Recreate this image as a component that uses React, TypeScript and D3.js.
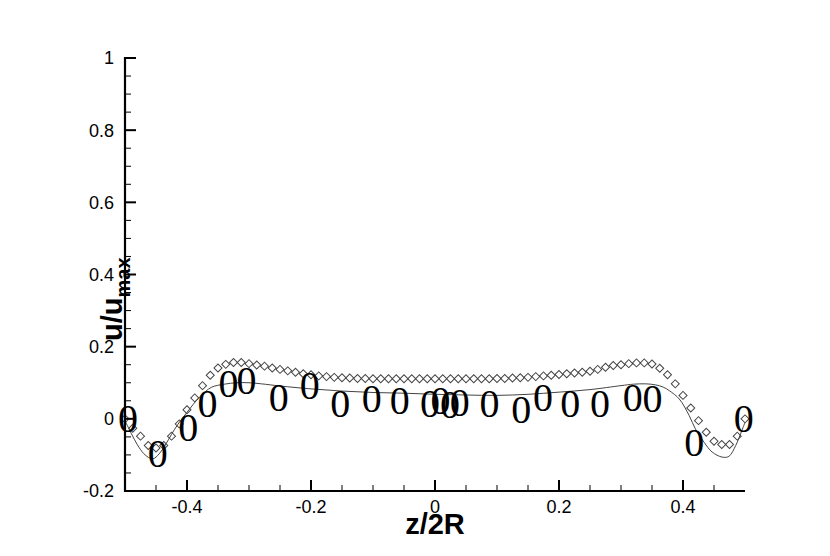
import React from "react";
import * as d3 from "d3";

// Diamond series (z/2R, u/umax)
const diamondZ = [
  -0.5, -0.4875, -0.475, -0.4625, -0.45, -0.4375, -0.425, -0.4125, -0.4, -0.3875,
  -0.375, -0.3625, -0.35, -0.3375, -0.325, -0.3125, -0.3, -0.2875, -0.275, -0.2625,
  -0.25, -0.2375, -0.225, -0.2125, -0.2, -0.1875, -0.175, -0.1625, -0.15, -0.1375,
  -0.125, -0.1125, -0.1, -0.0875, -0.075, -0.0625, -0.05, -0.0375, -0.025, -0.0125,
  0, 0.0125, 0.025, 0.0375, 0.05, 0.0625, 0.075, 0.0875, 0.1, 0.1125,
  0.125, 0.1375, 0.15, 0.1625, 0.175, 0.1875, 0.2, 0.2125, 0.225, 0.2375,
  0.25, 0.2625, 0.275, 0.2875, 0.3, 0.3125, 0.325, 0.3375, 0.35, 0.3625,
  0.375, 0.3875, 0.4, 0.4125, 0.425, 0.4375, 0.45, 0.4625, 0.475, 0.4875, 0.5,
];
const diamondU = [
  0.0, -0.026, -0.048, -0.074, -0.081, -0.074, -0.048, -0.014, 0.025, 0.058,
  0.092, 0.121, 0.141, 0.151, 0.156, 0.156, 0.153, 0.149, 0.146, 0.141,
  0.137, 0.133, 0.129, 0.125, 0.122, 0.119, 0.117, 0.115, 0.114, 0.113,
  0.112, 0.112, 0.111, 0.111, 0.111, 0.111, 0.111, 0.111, 0.111, 0.111,
  0.111, 0.111, 0.111, 0.111, 0.111, 0.111, 0.111, 0.111, 0.112, 0.112,
  0.113, 0.114, 0.115, 0.117, 0.119, 0.121, 0.123, 0.125, 0.127, 0.129,
  0.132, 0.137, 0.143, 0.148, 0.15, 0.153, 0.155, 0.155, 0.152, 0.14,
  0.122, 0.097, 0.065, 0.03, -0.005, -0.037, -0.062, -0.071, -0.071, -0.048, 0.0,
];

// Solid line series
const lineZ = [
  -0.5, -0.49, -0.48, -0.47, -0.46, -0.455, -0.45, -0.44, -0.43, -0.42, -0.41,
  -0.4, -0.39, -0.38, -0.37, -0.36, -0.34, -0.32, -0.3, -0.28, -0.25, -0.2,
  -0.15, -0.1, -0.05, 0, 0.05, 0.1, 0.15, 0.2, 0.25, 0.3, 0.32, 0.34, 0.356,
  0.368, 0.378, 0.394, 0.41, 0.42, 0.434, 0.447, 0.463, 0.474, 0.485, 0.495, 0.5,
];
const lineU = [
  -0.005, -0.04, -0.072, -0.096, -0.109, -0.111, -0.106, -0.086, -0.058, -0.029, -0.004,
  0.018, 0.04, 0.06, 0.076, 0.088, 0.096, 0.1, 0.1, 0.097, 0.091, 0.083,
  0.077, 0.073, 0.071, 0.068, 0.066, 0.065, 0.068, 0.074, 0.081, 0.092, 0.096, 0.097, 0.094,
  0.088, 0.078, 0.055, 0.009, -0.028, -0.065, -0.092, -0.106, -0.104, -0.074, -0.032, -0.01,
];

// "0" symbol series
const zeroZ = [
  -0.495, -0.447, -0.398, -0.367, -0.333, -0.304, -0.252, -0.202, -0.153, -0.102,
  -0.057, -0.008, 0.009, 0.024, 0.04, 0.088, 0.139, 0.174, 0.218, 0.266,
  0.319, 0.351, 0.418, 0.498,
];
const zeroU = [
  0.0, -0.097, -0.023, 0.042, 0.097, 0.107, 0.06, 0.092, 0.042, 0.055,
  0.051, 0.042, 0.051, 0.039, 0.046, 0.043, 0.025, 0.06, 0.042, 0.042,
  0.06, 0.055, -0.065, 0.0,
];

const xMajorTicks = [-0.4, -0.2, 0, 0.2, 0.4];
const xMajorLabels = ["-0.4", "-0.2", "0", "0.2", "0.4"];
const xMinorTicks = [-0.45, -0.35, -0.3, -0.25, -0.15, -0.1, -0.05, 0.05, 0.1, 0.15, 0.25, 0.3, 0.35, 0.45];
const yMajorTicks = [-0.2, 0, 0.2, 0.4, 0.6, 0.8, 1];
const yMajorLabels = ["-0.2", "0", "0.2", "0.4", "0.6", "0.8", "1"];
const yMinorTicks = [-0.15, -0.1, -0.05, 0.05, 0.1, 0.15, 0.25, 0.3, 0.35, 0.45, 0.5, 0.55, 0.65, 0.7, 0.75, 0.85, 0.9, 0.95];

const W = 830;
const H = 556;

export default function App() {
  const x = d3.scaleLinear().domain([-0.5, 0.5]).range([125, 745]);
  const y = d3.scaleLinear().domain([-0.2, 1]).range([491, 58]);

  const linePts = lineZ.map((z, i) => [z, lineU[i]] as [number, number]);
  const lineGen = d3
    .line<[number, number]>()
    .x((d) => x(d[0]))
    .y((d) => y(d[1]))
    .curve(d3.curveCatmullRom.alpha(0.5));

  const diamond = d3.symbol().type(d3.symbolSquare).size(32)() as string;

  const font = "'Liberation Sans', Arial, Helvetica, sans-serif";
  const x0 = x(-0.5);
  const y0 = y(-0.2);

  return (
    <svg
      width={W}
      height={H}
      style={{ position: "absolute", left: 0, top: 0, background: "#fff" }}
    >
      <rect x={0} y={0} width={W} height={H} fill="#fff" />
      {/* line */}
      <path d={lineGen(linePts) || ""} fill="none" stroke="#444" strokeWidth={1} />
      {/* diamonds */}
      {diamondZ.map((z, i) => (
        <path
          key={"d" + i}
          d={diamond}
          transform={`translate(${x(z)},${y(diamondU[i])}) rotate(45)`}
          fill="none"
          stroke="#444"
          strokeWidth={1}
        />
      ))}
      {/* axes */}
      <line x1={x0} y1={y(1) - 1} x2={x0} y2={y0 + 1} stroke="#000" strokeWidth={2.2} />
      <line x1={x0 - 1} y1={y0} x2={x(0.5)} y2={y0} stroke="#000" strokeWidth={2.2} />
      {yMajorTicks.map((t) => (
        <line key={"ym" + t} x1={x0} x2={x0 + 11} y1={y(t)} y2={y(t)} stroke="#000" strokeWidth={2} />
      ))}
      {yMinorTicks.map((t) => (
        <line key={"yn" + t} x1={x0} x2={x0 + 6} y1={y(t)} y2={y(t)} stroke="#000" strokeWidth={1} />
      ))}
      {xMajorTicks.map((t) => (
        <line key={"xm" + t} x1={x(t)} x2={x(t)} y1={y0} y2={y0 - 11} stroke="#000" strokeWidth={2} />
      ))}
      {xMinorTicks.map((t) => (
        <line key={"xn" + t} x1={x(t)} x2={x(t)} y1={y0} y2={y0 - 6} stroke="#000" strokeWidth={1} />
      ))}
      {yMajorTicks.map((t, i) => (
        <text
          key={"yl" + t}
          x={x0 - 11}
          y={y(t)}
          dy="0.36em"
          textAnchor="end"
          fontFamily={font}
          fontSize={18}
          fill="#000"
        >
          {yMajorLabels[i]}
        </text>
      ))}
      {xMajorTicks.map((t, i) => (
        <text
          key={"xl" + t}
          x={x(t)}
          y={y0 + 22}
          textAnchor="middle"
          fontFamily={font}
          fontSize={18}
          fill="#000"
        >
          {xMajorLabels[i]}
        </text>
      ))}
      {/* "0" symbols */}
      {zeroZ.map((z, i) => (
        <text
          key={"z" + i}
          x={x(z)}
          y={y(zeroU[i]) + 13.5}
          textAnchor="middle"
          fontFamily="'Liberation Serif', 'Times New Roman', serif"
          fontSize={40}
          fill="#000"
        >
          0
        </text>
      ))}
      {/* axis titles */}
      <text
        x={x(0)}
        y={534}
        textAnchor="middle"
        fontFamily={font}
        fontSize={29}
        fontWeight="bold"
        fill="#000"
      >
        z/2R
      </text>
      <text
        transform={`translate(122, 341) rotate(-90)`}
        textAnchor="start"
        fontFamily={font}
        fontWeight="bold"
        fill="#000"
        fontSize={29}
      >
        u/u
        <tspan fontSize={20} dy={8}>
          max
        </tspan>
      </text>
    </svg>
  );
}
